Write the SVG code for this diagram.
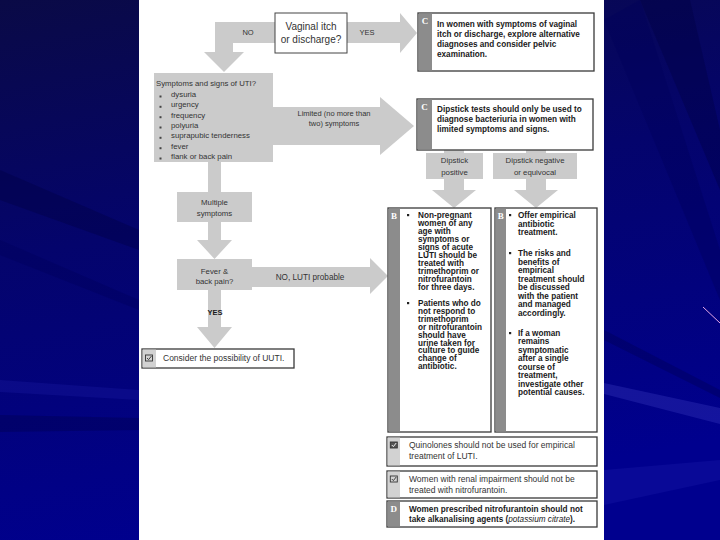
<svg xmlns="http://www.w3.org/2000/svg" width="720" height="540" viewBox="0 0 720 540">
<defs>
<linearGradient id="bg" x1="0" y1="0" x2="0.25" y2="1">
<stop offset="0" stop-color="#0a0a46"/>
<stop offset="0.45" stop-color="#04046c"/>
<stop offset="1" stop-color="#00008e"/>
</linearGradient>
<style>
.t{font-family:"Liberation Sans",Arial,sans-serif;fill:#333}
.b{font-family:"Liberation Sans",Arial,sans-serif;fill:#1a1a1a;font-weight:bold}
.arr{fill:#cbcbcb}
.gbox{fill:#cbcbcb}
.box{fill:#fff;stroke:#3a3a3a;stroke-width:1.3}
.dark{fill:#8c8c8c}
.light{fill:#d2d2d2}
.lt{font-family:"Liberation Serif",serif;font-weight:bold;fill:#fff;font-size:9px}
.ic{fill:none;stroke:#333;stroke-width:0.9}
</style>
</defs>
<rect width="720" height="540" fill="url(#bg)"/>
<g opacity="0.35">
<polygon points="0,170 139,230 139,250 0,200" fill="#000040"/>
<polygon points="0,240 139,300 139,310 0,255" fill="#00005a"/>
<polygon points="0,380 139,390 139,400 0,392" fill="#1a1aa0"/>
<polygon points="0,415 139,418 139,430 0,432" fill="#00004a"/>
<polygon points="640,0 690,0 720,130 720,190" fill="#000040"/>
<polygon points="604,20 640,0 720,250 720,300" fill="#00005a"/>
<polygon points="604,383 720,408 720,424 604,394" fill="#3a3ac0"/>
<polygon points="604,330 720,390 720,398 604,340" fill="#000050"/>
<polygon points="604,470 720,460 720,480 604,505" fill="#1a1aa8"/>
</g>
<line x1="703" y1="307" x2="720" y2="323" stroke="#e6a8e6" stroke-width="1"/>
<rect x="139" y="0" width="465" height="540" fill="#fff"/>

<g id="connectors">
<polygon class="arr" points="275,22 215,22 215,52 204,52 224,72 244,52 233,52 233,43 275,43"/>
<polygon class="arr" points="347,22 400,22 400,13 417,33 400,53 400,43 347,43"/>
<polygon class="arr" points="273,107 380,107 380,97 414,126 380,155 380,145 273,145"/>
<rect class="arr" x="208" y="162" width="13" height="30"/>
<polygon class="arr" points="208,222 221,222 221,240 232,240 214.5,259 197,240 208,240"/>
<polygon class="arr" points="208,290 221,290 221,327 232,327 214.5,348 197,327 208,327"/>
<polygon class="arr" points="252,267 370,267 370,258 388,276 370,294 370,287 252,287"/>
<rect class="arr" x="444" y="150" width="20" height="4"/>
<polygon class="arr" points="444,179 464,179 464,190 476,190 454,208 432,190 444,190"/>
<rect class="arr" x="526" y="150" width="20" height="4"/>
<polygon class="arr" points="526,179 546,179 546,190 558,190 536,208 514,190 526,190"/>
<text class="t" x="248" y="35" font-size="7.5" text-anchor="middle">NO</text>
<text class="t" x="367" y="35" font-size="7.5" text-anchor="middle">YES</text>
<text class="t" font-size="7.5" text-anchor="middle"><tspan x="334" y="115.5">Limited (no more than</tspan><tspan x="334" y="125.5">two) symptoms</tspan></text>
<text class="b" x="215" y="315" font-size="7.5" text-anchor="middle">YES</text>
<text class="t" x="310" y="280" font-size="8.2" text-anchor="middle">NO, LUTI probable</text>
</g>

<g id="vaginal">
<rect x="275" y="13" width="72" height="40" fill="#fff" stroke="#444" stroke-width="1"/>
<text class="t" font-size="10" text-anchor="middle" fill="#222"><tspan x="311" y="29.5">Vaginal itch</tspan><tspan x="311" y="42.5">or discharge?</tspan></text>
</g>

<g id="c-vaginal">
<rect class="box" x="418" y="13" width="176" height="58"/>
<rect class="dark" x="418.6" y="13.6" width="13.4" height="56.8"/>
<text class="lt" x="425" y="24" text-anchor="middle">C</text>
<text class="b" font-size="8.2"><tspan x="437" y="27">In women with symptoms of vaginal</tspan><tspan x="437" y="37">itch or discharge, explore alternative</tspan><tspan x="437" y="47">diagnoses and consider pelvic</tspan><tspan x="437" y="57">examination.</tspan></text>
</g>

<g id="symptoms">
<rect class="gbox" x="154" y="73" width="119" height="89"/>
<text class="t" font-size="7.8"><tspan x="156" y="85.7">Symptoms and signs of UTI?</tspan></text>
<g fill="#444">
<rect x="159.5" y="95.5" width="2" height="2"/><rect x="159.5" y="105.8" width="2" height="2"/><rect x="159.5" y="116.2" width="2" height="2"/><rect x="159.5" y="126.5" width="2" height="2"/><rect x="159.5" y="136.8" width="2" height="2"/><rect x="159.5" y="147.2" width="2" height="2"/><rect x="159.5" y="157.5" width="2" height="2"/>
</g>
<text class="t" font-size="7.8"><tspan x="171" y="97">dysuria</tspan><tspan x="171" y="107.3">urgency</tspan><tspan x="171" y="117.7">frequency</tspan><tspan x="171" y="128">polyuria</tspan><tspan x="171" y="138.3">suprapubic tenderness</tspan><tspan x="171" y="148.7">fever</tspan><tspan x="171" y="159">flank or back pain</tspan></text>
</g>

<g id="c-dipstick">
<rect class="box" x="417" y="99" width="176" height="51"/>
<rect class="dark" x="417.6" y="99.6" width="14.4" height="49.8"/>
<text class="lt" x="424.5" y="110" text-anchor="middle">C</text>
<text class="b" font-size="8.2"><tspan x="437" y="112">Dipstick tests should only be used to</tspan><tspan x="437" y="122">diagnose bacteriuria in women with</tspan><tspan x="437" y="132">limited symptoms and signs.</tspan></text>
</g>

<g id="dip-pos">
<rect class="gbox" x="426" y="153" width="57" height="26"/>
<text class="t" font-size="7.8" text-anchor="middle"><tspan x="454.5" y="162.7">Dipstick</tspan><tspan x="454.5" y="174.7">positive</tspan></text>
</g>
<g id="dip-neg">
<rect class="gbox" x="493" y="153" width="84" height="26"/>
<text class="t" font-size="7.8" text-anchor="middle"><tspan x="535" y="162.7">Dipstick negative</tspan><tspan x="535" y="174.7">or equivocal</tspan></text>
</g>

<g id="multiple">
<rect class="gbox" x="177" y="192" width="75" height="30"/>
<text class="t" font-size="7.8" text-anchor="middle"><tspan x="214.5" y="204.5">Multiple</tspan><tspan x="214.5" y="215.5">symptoms</tspan></text>
</g>
<g id="fever">
<rect class="gbox" x="177" y="259" width="75" height="31"/>
<text class="t" font-size="7.8" text-anchor="middle"><tspan x="214.5" y="274">Fever &amp;</tspan><tspan x="214.5" y="284">back pain?</tspan></text>
</g>

<g id="consider">
<rect class="box" x="142" y="349" width="152" height="19"/>
<rect class="light" x="142.6" y="349.6" width="13.4" height="17.8"/>
<rect class="ic" x="145.5" y="355" width="7" height="6"/>
<polyline class="ic" points="147,358 148.6,359.6 151.5,356"/>
<text class="t" x="163" y="361" font-size="8.5">Consider the possibility of UUTI.</text>
</g>

<g id="b-positive">
<rect class="box" x="388" y="208" width="103" height="224"/>
<rect class="dark" x="388.6" y="208.6" width="11.4" height="222.8"/>
<text class="lt" x="394" y="219" text-anchor="middle">B</text>
<g fill="#222"><rect x="407" y="214" width="2.2" height="2.2"/><rect x="407" y="302" width="2.2" height="2.2"/></g>
<text class="b" font-size="8.2"><tspan x="418" y="218">Non-pregnant</tspan><tspan x="418" dy="8">women of any</tspan><tspan x="418" dy="8">age with</tspan><tspan x="418" dy="8">symptoms or</tspan><tspan x="418" dy="8">signs of acute</tspan><tspan x="418" dy="8">LUTI should be</tspan><tspan x="418" dy="8">treated with</tspan><tspan x="418" dy="8">trimethoprim or</tspan><tspan x="418" dy="8">nitrofurantoin</tspan><tspan x="418" dy="8">for three days.</tspan></text>
<text class="b" font-size="8.2"><tspan x="418" y="306">Patients who do</tspan><tspan x="418" dy="7.9">not respond to</tspan><tspan x="418" dy="7.9">trimethoprim</tspan><tspan x="418" dy="7.9">or nitrofurantoin</tspan><tspan x="418" dy="7.9">should have</tspan><tspan x="418" dy="7.9">urine taken for</tspan><tspan x="418" dy="7.9">culture to guide</tspan><tspan x="418" dy="7.9">change of</tspan><tspan x="418" dy="7.9">antibiotic.</tspan></text>
</g>

<g id="b-negative">
<rect class="box" x="495" y="208" width="102" height="224"/>
<rect class="dark" x="495.6" y="208.6" width="10.4" height="222.8"/>
<text class="lt" x="500.8" y="219" text-anchor="middle">B</text>
<g fill="#222"><rect x="509" y="214" width="2.2" height="2.2"/><rect x="509" y="252" width="2.2" height="2.2"/><rect x="509" y="332" width="2.2" height="2.2"/></g>
<text class="b" font-size="8.2"><tspan x="518" y="218">Offer empirical</tspan><tspan x="518" dy="8.5">antibiotic</tspan><tspan x="518" dy="8.5">treatment.</tspan></text>
<text class="b" font-size="8.2"><tspan x="518" y="256">The risks and</tspan><tspan x="518" dy="8.5">benefits of</tspan><tspan x="518" dy="8.5">empirical</tspan><tspan x="518" dy="8.5">treatment should</tspan><tspan x="518" dy="8.5">be discussed</tspan><tspan x="518" dy="8.5">with the patient</tspan><tspan x="518" dy="8.5">and managed</tspan><tspan x="518" dy="8.5">accordingly.</tspan></text>
<text class="b" font-size="8.2"><tspan x="518" y="336">If a woman</tspan><tspan x="518" dy="8.45">remains</tspan><tspan x="518" dy="8.45">symptomatic</tspan><tspan x="518" dy="8.45">after a single</tspan><tspan x="518" dy="8.45">course of</tspan><tspan x="518" dy="8.45">treatment,</tspan><tspan x="518" dy="8.45">investigate other</tspan><tspan x="518" dy="8.45">potential causes.</tspan></text>
</g>

<g id="quinolones">
<rect class="box" x="387" y="437" width="210" height="29"/>
<rect class="light" x="387.6" y="437.6" width="12.4" height="27.8"/>
<rect x="390.3" y="442" width="7" height="6" fill="#555" stroke="#333" stroke-width="0.9"/>
<polyline points="391.8,445 393.4,446.6 396.2,443" fill="none" stroke="#fff" stroke-width="0.9"/>
<text class="t" font-size="8.5"><tspan x="409" y="448">Quinolones should not be used for empirical</tspan><tspan x="409" y="459">treatment of LUTI.</tspan></text>
</g>

<g id="renal">
<rect class="box" x="387" y="471" width="210" height="27"/>
<rect class="light" x="387.6" y="471.6" width="12.4" height="25.8"/>
<rect class="ic" x="390.3" y="476" width="7" height="6"/>
<polyline class="ic" points="391.8,479 393.4,480.6 396.2,477"/>
<text class="t" font-size="8.5"><tspan x="409" y="482">Women with renal impairment should not be</tspan><tspan x="409" y="493">treated with nitrofurantoin.</tspan></text>
</g>

<g id="d-box">
<rect class="box" x="387" y="501" width="210" height="26"/>
<rect class="dark" x="387.6" y="501.6" width="12.4" height="24.8"/>
<text class="lt" x="393.8" y="512" text-anchor="middle">D</text>
<text class="b" font-size="8.2"><tspan x="409" y="512">Women prescribed nitrofurantoin should not</tspan><tspan x="409" y="522">take alkanalising agents (<tspan font-style="italic" font-weight="normal">potassium citrate</tspan>).</tspan></text>
</g>
</svg>
